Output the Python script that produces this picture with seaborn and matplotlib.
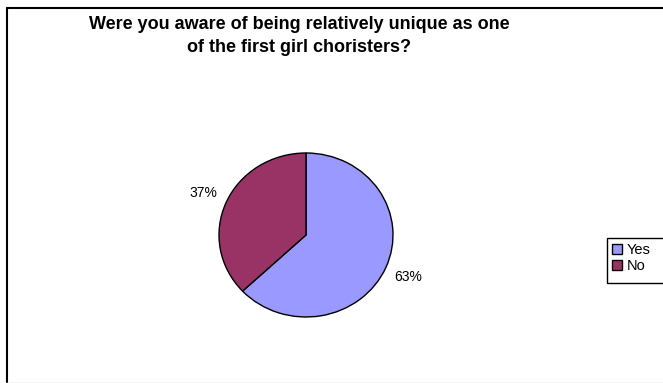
import matplotlib
matplotlib.use("Agg")
import matplotlib.pyplot as plt
import seaborn as sns
from matplotlib.lines import Line2D
from matplotlib.patches import Rectangle

categories = ["Yes", "No"]
values = [63, 37]
colors = ["#9999FF", "#993366"]
title = "Were you aware of being relatively unique as one\nof the first girl choristers?"

sns.set_theme(style="white")
plt.rcParams["font.family"] = ["Liberation Sans", "DejaVu Sans"]
plt.rcParams["text.color"] = "black"

W, H = 663, 383
fig = plt.figure(figsize=(W / 100, H / 100), dpi=100)
fig.patch.set_facecolor("white")

# outer chart border (left, top black; bottom light grey; right cut off)
fig.add_artist(Line2D([7 / W, 7 / W], [1 - 8 / H, 1 - 382 / H], transform=fig.transFigure,
                      color="black", linewidth=1.5))
fig.add_artist(Line2D([7 / W, 1.0], [1 - 8 / H, 1 - 8 / H], transform=fig.transFigure,
                      color="black", linewidth=1.5))
fig.add_artist(Line2D([7 / W, 1.0], [1 - 382.5 / H, 1 - 382.5 / H], transform=fig.transFigure,
                      color="#c8c8c8", linewidth=1.0))

ax = fig.add_axes([(306 - 87) / W, (H - 317) / H, 174 / W, 164 / H])
pal = sns.color_palette(colors)
wedges, texts, autotexts = ax.pie(values, colors=pal, startangle=90, counterclock=False,
                                  autopct="%1.0f%%", pctdistance=1.28,
                                  wedgeprops=dict(edgecolor="black", linewidth=1.0),
                                  textprops=dict(fontsize=10, color="black"))
ax.set_aspect("auto")
ax.set_xlim(-1, 1)
ax.set_ylim(-1, 1)
ax.axis("off")

fig.text(299 / W, 1 - 36 / H, title, ha="center", va="center", fontsize=13,
         fontweight="bold", linespacing=1.45, color="black")

# legend frame extends past the right edge
fig.add_artist(Rectangle((607 / W, 1 - 283 / H), 0.2, 45 / H, transform=fig.transFigure,
                         fill=False, edgecolor="black", linewidth=1.0))
leg = fig.legend(wedges, categories, loc="upper left", bbox_to_anchor=(609 / W, 1 - 240 / H),
                 bbox_transform=fig.transFigure, borderaxespad=0, frameon=False,
                 fontsize=10.5, handlelength=0.7, handleheight=0.7, handletextpad=0.3,
                 labelspacing=0.15, borderpad=0.2, labelcolor="black")

fig.savefig("out.png", dpi=100, facecolor="white")
